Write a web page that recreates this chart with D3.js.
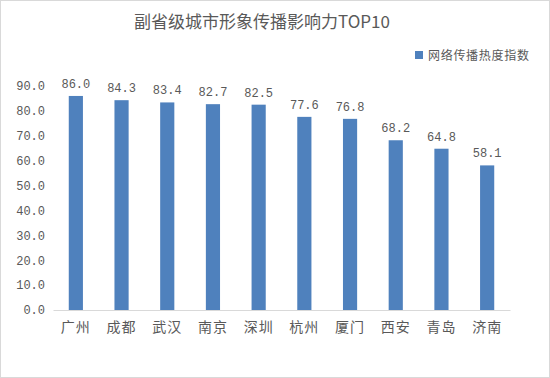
<!DOCTYPE html>
<html>
<head>
<meta charset="utf-8">
<script src="https://cdn.jsdelivr.net/npm/d3@7"></script>
<style>
  html, body { margin: 0; padding: 0; background: #fff; }
  #chart { width: 550px; height: 378px; }
  text { fill: #595959; }
</style>
</head>
<body>
<div id="chart"></div>
<script>
const cities = ["广州", "成都", "武汉", "南京", "深圳", "杭州", "厦门", "西安", "青岛", "济南"];
const heatIndex = [86.0, 84.3, 83.4, 82.7, 82.5, 77.6, 76.8, 68.2, 64.8, 58.1];
const yTicks = [0, 10, 20, 30, 40, 50, 60, 70, 80, 90];
const seriesName = "网络传播热度指数";
const title = "副省级城市形象传播影响力TOP10";

const totalWidth = 550, totalHeight = 378;
const margin = { top: 86, right: 40, bottom: 68, left: 53 };
const width = totalWidth - margin.left - margin.right;
const height = totalHeight - margin.top - margin.bottom;
const barColor = "#4f81bd";
const cjk = "'Noto Sans CJK SC', sans-serif";
const mono = "'Liberation Mono', 'DejaVu Sans Mono', monospace";

const svg = d3.select("#chart").append("svg")
  .attr("width", totalWidth)
  .attr("height", totalHeight);

// chart border
svg.append("rect")
  .attr("x", 0.5).attr("y", 0.5)
  .attr("width", totalWidth - 1).attr("height", totalHeight - 1)
  .attr("fill", "#fff")
  .attr("stroke", "#d9d9d9");

const g = svg.append("g")
  .attr("transform", `translate(${margin.left},${margin.top})`);

const x = d3.scaleBand()
  .domain(cities)
  .range([0, width])
  .paddingInner(0.69)
  .paddingOuter(0.345);

const y = d3.scaleLinear()
  .domain([0, 90])
  .range([height, 0]);

// y axis labels (no line)
const yAxis = g.append("g")
  .call(d3.axisLeft(y).tickValues(yTicks).tickFormat(d3.format(".1f")).tickSize(0).tickPadding(8));
yAxis.select(".domain").remove();
yAxis.selectAll("text")
  .style("font-family", mono)
  .style("font-size", "12px")
  .attr("fill", "#595959");

// bars
g.selectAll(".bar")
  .data(heatIndex)
  .enter().append("rect")
  .attr("class", "bar")
  .attr("x", (d, i) => x(cities[i]))
  .attr("width", x.bandwidth())
  .attr("y", d => y(d))
  .attr("height", d => height - y(d))
  .attr("fill", barColor);

// x axis
const xAxis = g.append("g")
  .attr("transform", `translate(0,${height})`)
  .call(d3.axisBottom(x).tickSize(0).tickPadding(12));
xAxis.select(".domain").attr("stroke", "#d9d9d9");
xAxis.selectAll("text")
  .style("font-family", cjk)
  .style("font-size", "14px")
  .style("letter-spacing", "1px")
  .attr("fill", "#595959");

// value labels
g.selectAll(".label")
  .data(heatIndex)
  .enter().append("text")
  .attr("class", "label")
  .attr("x", (d, i) => x(cities[i]) + x.bandwidth() / 2)
  .attr("y", d => y(d) - 8)
  .attr("text-anchor", "middle")
  .style("font-family", mono)
  .style("font-size", "12px")
  .text(d => d.toFixed(1));

// title
svg.append("text")
  .attr("x", 262)
  .attr("y", 28)
  .attr("text-anchor", "middle")
  .style("font-family", cjk)
  .style("font-size", "17px")
  .text(title);

// legend
const legend = svg.append("g").attr("transform", "translate(415,51)");
legend.append("rect")
  .attr("width", 8).attr("height", 8)
  .attr("fill", barColor);
legend.append("text")
  .attr("x", 13).attr("y", 9)
  .style("font-family", cjk)
  .style("font-size", "12px")
  .style("letter-spacing", "0.7px")
  .text(seriesName);
</script>
</body>
</html>
